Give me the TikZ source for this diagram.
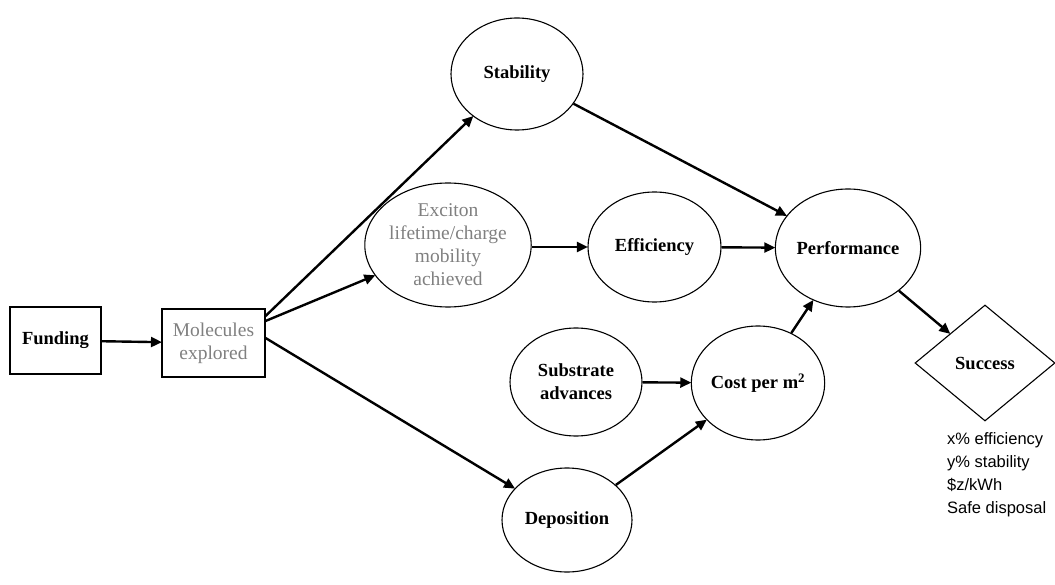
\documentclass[tikz,border=0pt]{standalone}
\usepackage{fontspec}
\setmainfont{Liberation Serif}
\newfontfamily\arialfont{Liberation Sans}
\usetikzlibrary{shapes.geometric,arrows.meta}
\definecolor{txtgray}{HTML}{808080}
\tikzset{
  oval/.style={ellipse,draw=black,line width=1.1pt,inner sep=0pt,align=center,
    font=\fontsize{18.5}{23}\selectfont\bfseries},
  boxnode/.style={rectangle,draw=black,line width=1.1pt,inner sep=0pt,align=center,
    font=\fontsize{18.5}{23}\selectfont\bfseries},
  grayt/.style={text=txtgray,font=\fontsize{19.5}{23}\selectfont},
  arr/.style={line width=2.4pt,-{Triangle[length=11pt,width=10pt]},shorten >=-0.5pt},
}
\begin{document}
\begin{tikzpicture}[x=1pt,y=-1pt]
\useasboundingbox (0,0) rectangle (1055,585);
\node[boxnode,minimum width=91pt,minimum height=67pt] (fund) at (55.5,340.5) {Funding};
\node[boxnode,grayt,minimum width=103pt,minimum height=68pt] (mol) at (213.5,343) {Molecules\\explored};
\node[oval,minimum width=132pt,minimum height=112pt] (stab) at (517,74) {Stability};
\node[oval,grayt,minimum width=142pt,minimum height=124pt] (exc) at (448,245) {Exciton\\lifetime/charge\\mobility\\achieved};
\node[oval,minimum width=133pt,minimum height=110pt] (eff) at (654.5,247) {Efficiency};
\node[oval,minimum width=132pt,minimum height=118pt] (perf) at (848,248) {Performance};
\node[oval,minimum width=132pt,minimum height=108pt] (sub) at (576,382) {Substrate\\advances};
\node[oval,minimum width=133pt,minimum height=114pt] (cost) at (758,383) {Cost per m\textsuperscript{2}};
\node[oval,minimum width=130pt,minimum height=104pt] (dep) at (567,520) {Deposition};
\node[diamond,draw=black,line width=1.1pt,inner sep=0pt,minimum width=140pt,minimum height=116pt,
  font=\fontsize{18.5}{23}\selectfont\bfseries] (succ) at (985,363) {Success};
\node[anchor=north west,inner sep=0pt,align=left,font=\arialfont\fontsize{16.5}{23}\selectfont] (crit) at (947,432)
  {x\% efficiency\\y\% stability\\\$z/kWh\\Safe disposal};
\draw[arr] (fund) -- (mol);
\draw[arr] ([yshift=27pt]mol.east) -- (stab);
\draw[arr] ([yshift=22pt]mol.east) -- (exc);
\draw[arr] ([yshift=5pt]mol.east) -- (dep);
\draw[arr] (exc.east |- eff.center) -- (eff);
\draw[arr] (eff) -- (perf);
\draw[arr] (stab) -- (perf);
\draw[arr] (cost) -- (perf);
\draw[arr] (perf) -- (succ);
\draw[arr] (sub) -- (cost);
\draw[arr] (dep) -- (cost);
\end{tikzpicture}
\end{document}
